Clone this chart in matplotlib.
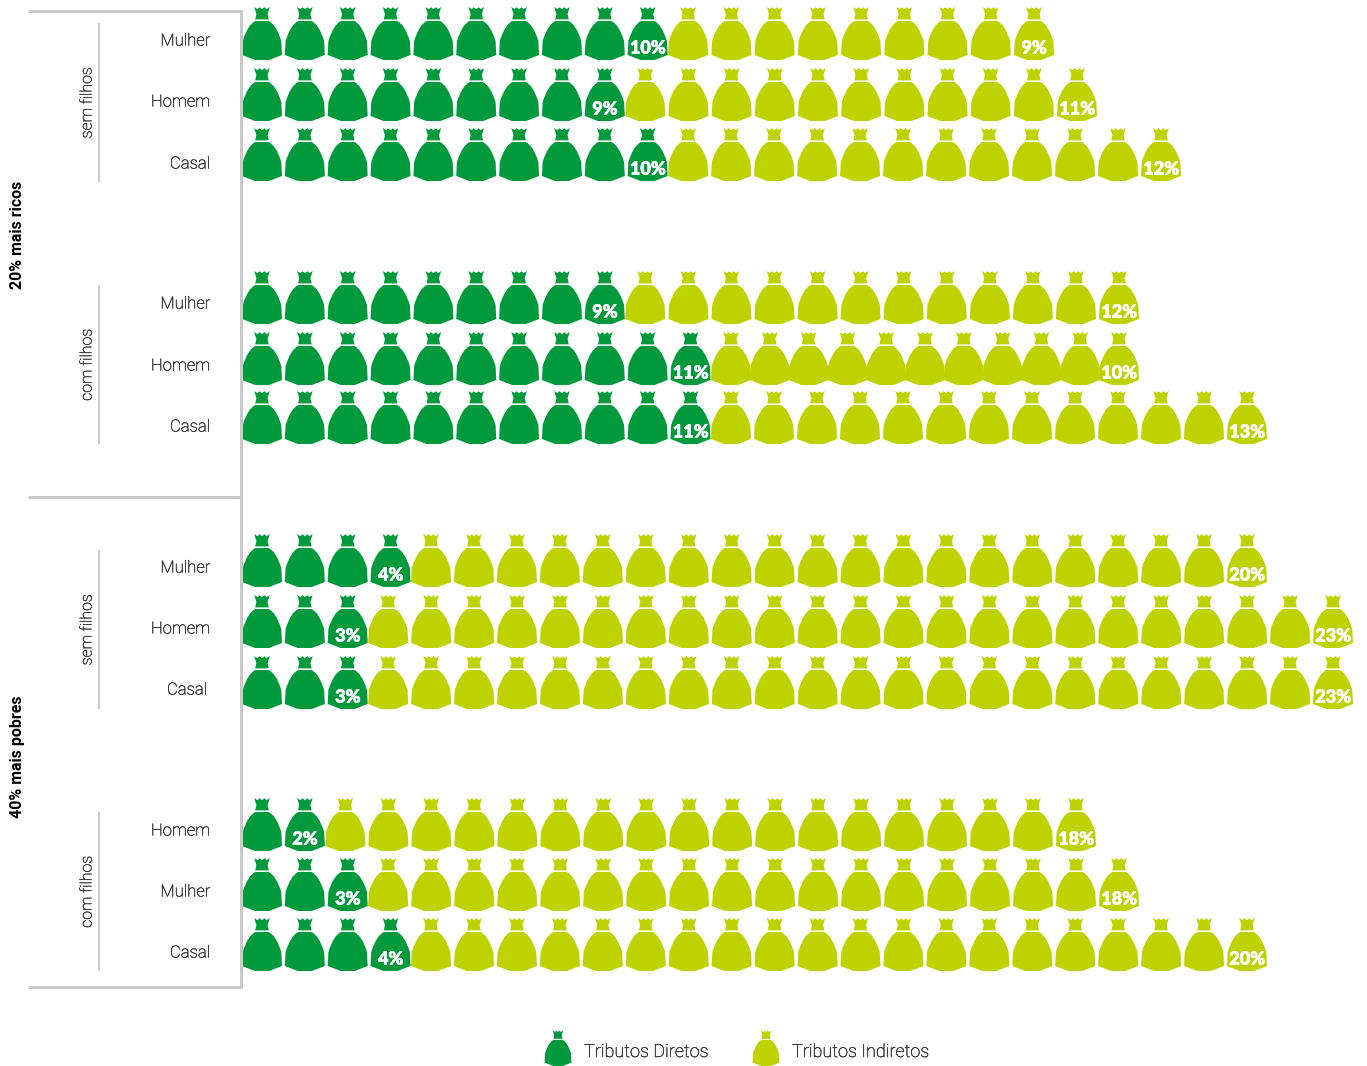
import matplotlib
matplotlib.use('Agg')
import matplotlib.pyplot as plt
import matplotlib.patheffects as pe
from matplotlib.path import Path
from matplotlib.patches import PathPatch
from matplotlib.transforms import Affine2D

# dados, de cima para baixo
pessoas = ['Mulher', 'Homem', 'Casal', 'Mulher', 'Homem', 'Casal',
           'Mulher', 'Homem', 'Casal', 'Homem', 'Mulher', 'Casal']
diretos = [10, 9, 10, 9, 11, 11, 4, 3, 3, 2, 3, 4]
indiretos = [9, 11, 12, 12, 10, 13, 20, 23, 23, 18, 18, 20]
# numero de sacos desenhados (Homem com filhos tem 11 sacos para 10%)
sacos_indiretos = [9, 11, 12, 12, 11, 13, 20, 23, 23, 18, 18, 20]
grupos = ['sem filhos', 'com filhos', 'sem filhos', 'com filhos']
rendas = ['20% mais ricos', '40% mais pobres']
legenda = ['Tributos Diretos', 'Tributos Indiretos']

VERDE = '#009a3d'
LIMA = '#bed200'
CINZA = '#c9c9c9'
TEXTO = '#333333'

# layout em pixels
base_y = [60, 121, 181, 324, 385, 444, 587, 648, 709, 851, 911, 971]
texto_y = [41, 102, 164, 304, 366, 427, 568, 629, 690, 831, 892, 953]
ultimo_x = [1034, 1077, 1161, 1119, 1119, 1247, 1247, 1333, 1333, 1076, 1119, 1247]
x0 = 262
passo = 42.85

plt.rcParams['font.family'] = ['Roboto', 'DejaVu Sans']

fig = plt.figure(figsize=(13.67, 10.66), dpi=100)
ax = fig.add_axes([0, 0, 1, 1])
ax.set_xlim(0, 1367)
ax.set_ylim(1066, 0)
ax.axis('off')

# saco: corpo + boca, origem no centro da base
verts = [(-6.5, -39), (6.5, -39),
         (14, -36), (19.3, -19),
         (20, -5), (7, 0), (-7, 0), (-20, -5), (-19.3, -19),
         (-14, -36), (-6.5, -39), (-6.5, -39)]
codes = [Path.MOVETO, Path.LINETO,
         Path.CURVE3, Path.CURVE3,
         Path.LINETO, Path.LINETO, Path.LINETO, Path.LINETO, Path.LINETO,
         Path.CURVE3, Path.CURVE3, Path.CLOSEPOLY]
boca = [(-7.8, -53), (-4.5, -50.8), (-2.5, -52.8), (0, -50.8), (2.5, -52.8), (4.5, -50.8), (7.8, -53),
        (5.6, -46), (6.8, -40.6), (-6.8, -40.6), (-5.6, -46), (-7.8, -53)]
verts += boca
codes += [Path.MOVETO] + [Path.LINETO] * (len(boca) - 2) + [Path.CLOSEPOLY]
saco = Path(verts, codes)

# engrossa um pouco o texto fino
reforco = [pe.withStroke(linewidth=0.3, foreground=TEXTO)]


def desenha_saco(x, y, cor, esc=1.0):
    t = Affine2D().scale(esc).translate(x, y) + ax.transData
    ax.add_patch(PathPatch(saco, facecolor=cor, edgecolor='none', transform=t))


def rotulo(x, y, v):
    ax.text(x, y - 12, str(v) + '%', color='white', fontsize=13, fontweight='black',
            family=['Lato', 'DejaVu Sans'], ha='center', va='center',
            path_effects=[pe.withStroke(linewidth=0.5, foreground='white')])


for i in range(len(pessoas)):
    y = base_y[i]
    x = x0
    for k in range(diretos[i]):
        x = x0 + k * passo
        desenha_saco(x, y, VERDE)
    rotulo(x, y, diretos[i])
    ini = x + 40.5
    p = (ultimo_x[i] - ini) / (sacos_indiretos[i] - 1)
    for k in range(sacos_indiretos[i]):
        desenha_saco(ini + k * p, y, LIMA)
    rotulo(ultimo_x[i], y, indiretos[i])
    dx = -3 if i == 8 else 0
    ax.text(210 + dx, texto_y[i], pessoas[i], color=TEXTO, fontsize=12, fontweight='light',
            ha='right', va='center', path_effects=reforco)

# moldura
for yy in (11, 497, 987):
    ax.plot([28, 241], [yy, yy], color=CINZA, lw=2.2, solid_capstyle='butt')
ax.plot([241, 241], [10, 988], color=CINZA, lw=2.2, solid_capstyle='butt')

# chaves dos grupos
chave_ini = [23, 285, 550, 812]
chave_fim = [182, 444, 709, 971]
for g, a, b in zip(grupos, chave_ini, chave_fim):
    ax.plot([99, 99], [a, b], color=CINZA, lw=1.5, solid_capstyle='butt')
    ax.text(87, (a + b) / 2, g, color=TEXTO, fontsize=11.5, fontweight='light',
            rotation=90, ha='center', va='center', path_effects=reforco)

for r, yy in zip(rendas, (235, 757)):
    ax.text(18, yy, r, color='black', fontsize=11.5, fontweight='bold',
            rotation=90, ha='center', va='center')

# legenda
desenha_saco(558, 1066, VERDE, 0.67)
desenha_saco(766, 1066, LIMA, 0.67)
ax.text(584, 1052, legenda[0], color=TEXTO, fontsize=13, fontweight='light', va='center', path_effects=reforco)
ax.text(792, 1052, legenda[1], color=TEXTO, fontsize=13, fontweight='light', va='center', path_effects=reforco)

fig.savefig('out.png', dpi=100)
